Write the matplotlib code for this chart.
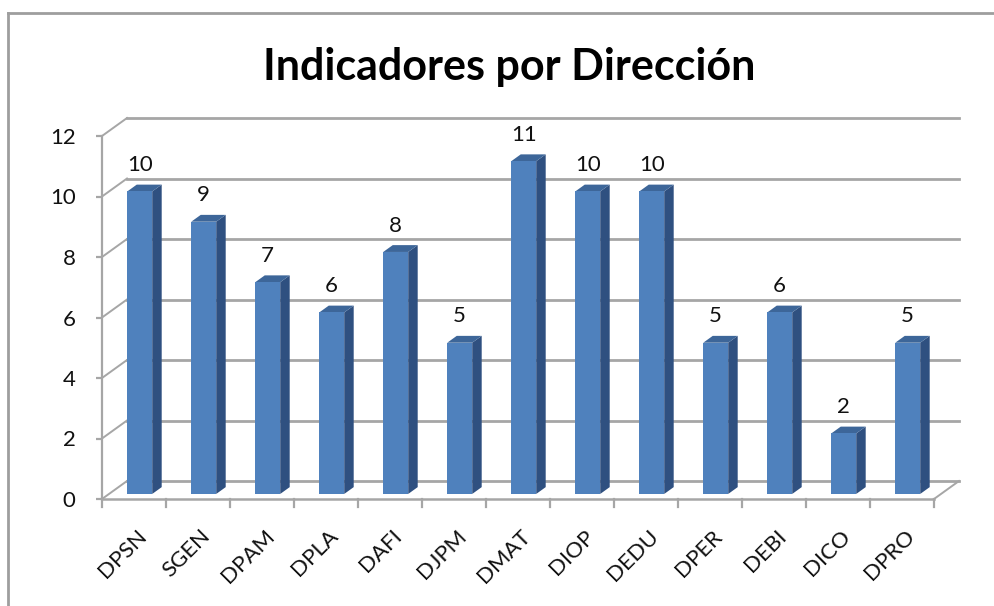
import matplotlib.pyplot as plt
from matplotlib.patches import Polygon
from matplotlib.transforms import offset_copy

plt.rcParams['font.family'] = ['Lato', 'DejaVu Sans']

categorias = ['DPSN', 'SGEN', 'DPAM', 'DPLA', 'DAFI', 'DJPM', 'DMAT',
              'DIOP', 'DEDU', 'DPER', 'DEBI', 'DICO', 'DPRO']
valores = [10, 9, 7, 6, 8, 5, 11, 10, 10, 5, 6, 2, 5]
y_ticks = [0, 2, 4, 6, 8, 10, 12]

# pseudo 3d (estilo Excel)
W, H = 995, 606
px_x, px_y = 64.0, 30.25          # pixeles por unidad
dx, dy = 25 / px_x, 18 / px_y     # profundidad del fondo
f0, f1 = 0.28, 0.66               # profundidad de las barras
ancho = 0.39
c_frente, c_lado, c_tope = '#4F81BD', '#2F5080', '#3D6699'
c_grid = '#A6A6A6'
n = len(categorias)

fig = plt.figure(figsize=(W / 100, H / 100), dpi=100)
xmax, ymax = 13.5, 13.0
ax = fig.add_axes([102 / W, (H - 499) / H, xmax * px_x / W, ymax * px_y / H])
ax.set_xlim(0, xmax)
ax.set_ylim(0, ymax)
for s in ['top', 'right', 'bottom']:
    ax.spines[s].set_visible(False)
ax.spines['left'].set_bounds(0, y_ticks[-1])
ax.spines['left'].set_color(c_grid)
ax.spines['left'].set_linewidth(1.6)
ax.set_yticks(y_ticks)
ax.tick_params(axis='y', length=4, width=1.6, color=c_grid, pad=15, labelsize=16,
               labelcolor='#111111')
ax.set_xticks([])

# pared de fondo y piso
for y in y_ticks:
    ax.plot([dx, n + dx], [y + dy, y + dy], color=c_grid, lw=2, zorder=1)
    ax.plot([0, dx], [y, y + dy], color=c_grid, lw=1.4, zorder=1)
ax.plot([0, n], [0, 0], color=c_grid, lw=1.8, zorder=1, clip_on=False)
ax.plot([n, n + dx], [0, dy], color=c_grid, lw=1.4, zorder=1)

# marcas del eje x
for i in range(n + 1):
    ax.plot([i, i], [0, -8 / px_y], color=c_grid, lw=1.6, clip_on=False)

# barras
for i, v in enumerate(valores):
    x0 = i + 0.5 - ancho / 2 + f0 * dx - 0.02
    x1 = x0 + ancho
    b = f0 * dy
    ox, oy = (f1 - f0) * dx, (f1 - f0) * dy
    ax.add_patch(Polygon([(x1, b), (x1 + ox, b + oy), (x1 + ox, v + b + oy), (x1, v + b)],
                         closed=True, fc=c_lado, ec='none', zorder=3))
    ax.add_patch(Polygon([(x0, v + b), (x1, v + b), (x1 + ox, v + b + oy), (x0 + ox, v + b + oy)],
                         closed=True, fc=c_tope, ec='none', zorder=3))
    ax.add_patch(Polygon([(x0, b), (x1, b), (x1, v + b), (x0, v + b)],
                         closed=True, fc=c_frente, ec='none', zorder=4))
    ax.annotate(str(v), ((x0 + x1) / 2, v + b), xytext=(0, 19), textcoords='offset points',
                ha='center', va='center', fontsize=16, color='#111111', zorder=5)

# etiquetas de categorias
for i, cat in enumerate(categorias):
    tr = offset_copy(ax.transData, fig=fig, x=2, y=-27, units='dots')
    ax.text(i + 0.5, 0, cat, transform=tr, rotation=45, ha='right', va='top',
            rotation_mode='anchor', fontsize=16, color='#111111')

# titulo
fig.text(509 / W, 1 - 67 / H, 'Indicadores por Dirección', ha='center', va='center',
         fontsize=31, fontweight='bold', color='black')

# borde del grafico
fig.add_artist(plt.Line2D([8 / W, 8 / W], [0, 1 - 13 / H], color='#9E9E9E', lw=2))
fig.add_artist(plt.Line2D([8 / W, 1], [1 - 13 / H, 1 - 13 / H], color='#9E9E9E', lw=2))

fig.savefig('out.png', dpi=100)
